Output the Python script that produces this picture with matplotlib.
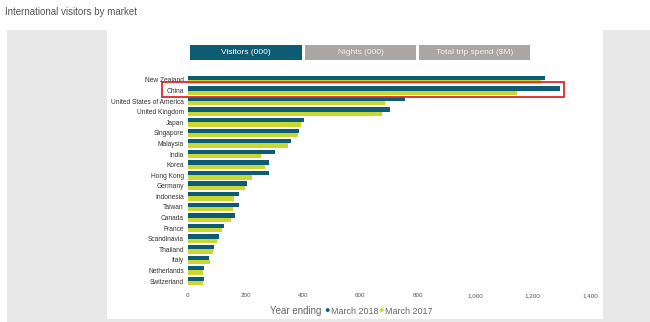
import matplotlib
matplotlib.use("Agg")
import matplotlib.pyplot as plt
from matplotlib.patches import Rectangle
import numpy as np

plt.rcParams['font.family'] = ['Liberation Sans', 'DejaVu Sans']

markets = ["New Zealand", "China", "United States of America", "United Kingdom", "Japan",
           "Singapore", "Malaysia", "India", "Korea", "Hong Kong", "Germany", "Indonesia",
           "Taiwan", "Canada", "France", "Scandinavia", "Thailand", "Italy", "Netherlands",
           "Switzerland"]
# visitors (000), year ending March
march_2018 = [1244, 1296, 756, 704, 404, 387, 358, 302, 281, 281, 204, 179, 177, 164,
              127, 109, 91, 74, 55, 55]
march_2017 = [1230, 1146, 686, 676, 393, 384, 348, 254, 268, 222, 200, 160, 158, 149,
              118, 101, 88, 75, 52, 53]
ticks = [0, 200, 400, 600, 800, 1000, 1200, 1400]
tick_labels = ["0", "200", "400", "600", "800", "1,000", "1,200", "1,400"]
buttons = ["Visitors (000)", "Nights (000)", "Total trip spend ($M)"]

teal = "#0e5c74"
lime = "#c9d831"
W, H = 650, 322

fig = plt.figure(figsize=(6.5, 3.22), dpi=100)
fig.patch.set_facecolor("white")

def px(x0, y0, x1, y1, **kw):
    # rectangle given in pixel coords (y from top)
    r = Rectangle((x0 / W, 1 - y1 / H), (x1 - x0) / W, (y1 - y0) / H,
                  transform=fig.transFigure, **kw)
    fig.patches.append(r)

# grey side panels
px(7, 30, 107, 319, facecolor="#e8e8e8", edgecolor="none", zorder=0)
px(603, 30, 650, 319, facecolor="#e8e8e8", edgecolor="none", zorder=0)
px(7, 319, 650, 322, facecolor="#e8e8e8", edgecolor="none", zorder=0)

fig.text(5 / W, 1 - 12 / H, "International visitors by market", fontsize=7,
         color="#555555", va="center", ha="left")

# selector buttons
bx = [(190, 302, teal, "white"), (305, 416, "#a9a6a4", "#f2f2f2"), (419, 530, "#a9a6a4", "#f2f2f2")]
for (x0, x1, fc, tc), lab in zip(bx, buttons):
    px(x0, 45, x1, 60, facecolor=fc, edgecolor="none", zorder=1)
    fig.text((x0 + x1) / 2 / W, 1 - 52.5 / H, lab, fontsize=6, color=tc,
             ha="center", va="center")

ax = fig.add_axes([188 / W, 1 - 286.3 / H, 402 / W, 211.6 / H])
ax.set_facecolor("none")
y = np.arange(len(markets))
h = 0.41
ax.barh(y - h / 2, march_2018, height=h, color=teal, label="March 2018")
ax.barh(y + h / 2, march_2017, height=h, color=lime, label="March 2017")
ax.set_ylim(len(markets) - 0.5, -0.5)
ax.set_xlim(0, 1400)
ax.set_yticks(y)
ax.set_yticklabels(markets, fontsize=4.8, color="#333333")
ax.set_xticks(ticks)
ax.set_xticklabels(tick_labels, fontsize=4.5, color="#555555")
ax.tick_params(axis="both", length=0)
ax.tick_params(axis="x", pad=5)
ax.tick_params(axis="y", pad=3)
for s in ax.spines.values():
    s.set_visible(False)

# highlight box around China
px(162, 82, 564, 96.5, facecolor="none", edgecolor="#e3262b", linewidth=1.3, zorder=5)

# legend
ly = 1 - 311 / H
fig.text(270 / W, ly, "Year ending", fontsize=7, color="#666666", va="center")
fig.text(327 / W, ly, "\u25cf", fontsize=6.5, color=teal, va="center", ha="center")
fig.text(331 / W, ly, "March 2018", fontsize=6.5, color="#666666", va="center")
fig.text(381 / W, ly, "\u25cf", fontsize=6.5, color=lime, va="center", ha="center")
fig.text(385 / W, ly, "March 2017", fontsize=6.5, color="#666666", va="center")

fig.savefig("out.png", dpi=100)
